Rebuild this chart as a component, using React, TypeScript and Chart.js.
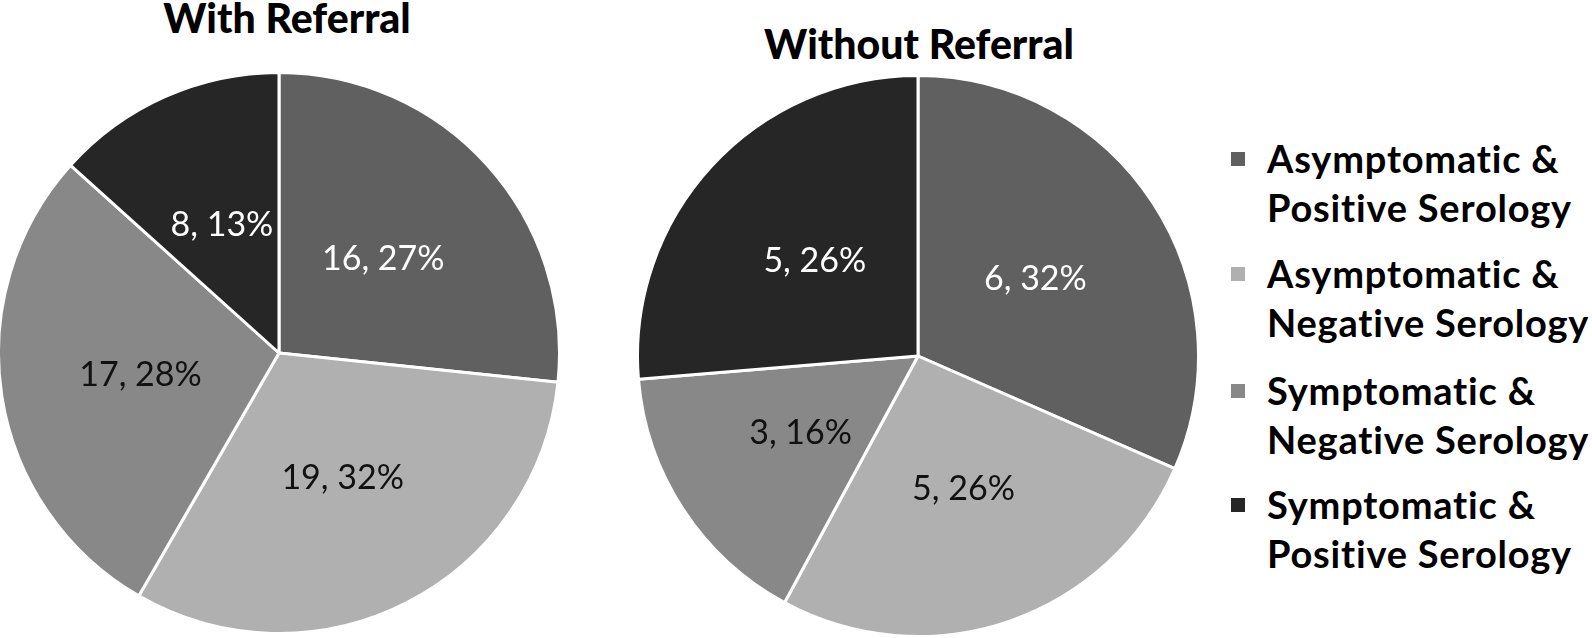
import React, { useEffect, useRef } from "react";
import { Chart, registerables } from "chart.js";

Chart.register(...registerables);

const categories = [
  ["Asymptomatic &", "Positive Serology"],
  ["Asymptomatic &", "Negative Serology"],
  ["Symptomatic &", "Negative Serology"],
  ["Symptomatic &", "Positive Serology"],
];
const withReferral = [16, 19, 17, 8];
const withoutReferral = [6, 5, 3, 5];
const titles = ["With Referral", "Without Referral"];
const colors = ["#606060", "#b0b0b0", "#888888", "#262626"];
const labelColors = ["#ffffff", "#111111", "#111111", "#ffffff"];

const FONT = "Lato, 'Open Sans', sans-serif";

const labelPlugin = {
  id: "sliceLabels",
  afterDatasetsDraw(chart: any) {
    const ctx = chart.ctx;
    const ds = chart.data.datasets[0];
    const total = ds.data.reduce((a: number, b: number) => a + b, 0);
    const meta = chart.getDatasetMeta(0);
    ctx.save();
    ctx.font = `400 34px ${FONT}`;
    ctx.textAlign = "center";
    ctx.textBaseline = "middle";
    meta.data.forEach((arc: any, i: number) => {
      const p = arc.tooltipPosition();
      const v = ds.data[i];
      const pct = Math.round((v / total) * 100);
      ctx.fillStyle = labelColors[i];
      ctx.fillText(`${v}, ${pct}%`, p.x, p.y);
    });
    ctx.restore();
  },
};

function Pie({ data, size, left, top }: { data: number[]; size: number; left: number; top: number }) {
  const ref = useRef<HTMLCanvasElement>(null);
  useEffect(() => {
    const chart = new Chart(ref.current!, {
      type: "pie",
      data: {
        labels: categories.map((c) => c.join(" ")),
        datasets: [
          {
            data,
            backgroundColor: colors,
            borderColor: "#ffffff",
            borderWidth: 3,
          },
        ],
      },
      options: {
        responsive: false,
        animation: false,
        layout: { padding: 0 },
        plugins: { legend: { display: false }, tooltip: { enabled: false }, title: { display: false } },
      },
      plugins: [labelPlugin],
    });
    return () => chart.destroy();
  }, []);
  return (
    <canvas
      ref={ref}
      width={size}
      height={size}
      style={{ position: "absolute", left, top, width: size, height: size }}
    />
  );
}

export default function App() {
  useEffect(() => {
    document.body.style.margin = "0";
  }, []);
  const legendTops = [134, 249, 366, 480];
  return (
    <div style={{ position: "absolute", left: 0, top: 0, width: 1592, height: 638, background: "#fff", overflow: "hidden", fontFamily: FONT }}>
      <div style={{ position: "absolute", left: 287 - 250, width: 500, top: -3, lineHeight: "41px", textAlign: "center", fontWeight: 900, fontSize: 41, color: "#000" }}>
        {titles[0]}
      </div>
      <div style={{ position: "absolute", left: 919 - 250, width: 500, top: 23, lineHeight: "41px", textAlign: "center", fontWeight: 900, fontSize: 41, color: "#000" }}>
        {titles[1]}
      </div>
      <Pie data={withReferral} size={564} left={-3} top={71} />
      <Pie data={withoutReferral} size={564} left={636} top={74} />
      {categories.map((c, i) => (
        <div key={i} style={{ position: "absolute", left: 1231, top: legendTops[i] }}>
          <div style={{ position: "absolute", left: 0, top: 18, width: 14, height: 14, background: colors[i] }} />
          <div style={{ position: "absolute", left: 36, top: 0, whiteSpace: "nowrap", fontWeight: 700, fontSize: 38, letterSpacing: "0.8px", lineHeight: "49px", color: "#000" }}>
            {c[0]}
            <br />
            {c[1]}
          </div>
        </div>
      ))}
    </div>
  );
}
